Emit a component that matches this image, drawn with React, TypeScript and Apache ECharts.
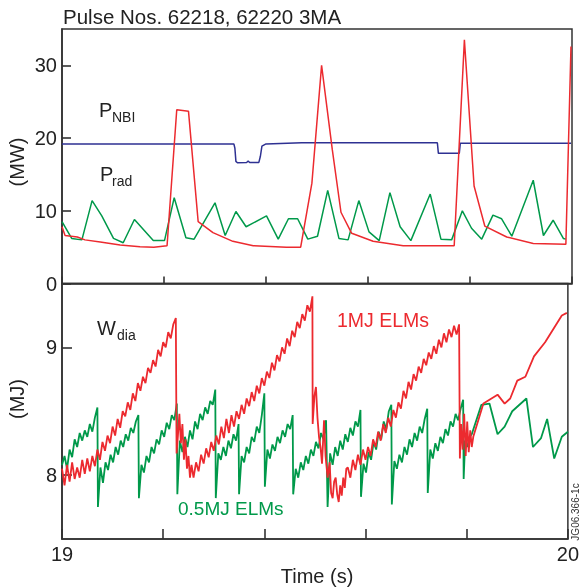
import React, { useEffect, useRef } from "react";
import * as echarts from "echarts";

const TITLE = "Pulse Nos. 62218, 62220 3MA";
const FONT = '"Liberation Sans", Arial, Helvetica, sans-serif';
const RED = "#ec2a2f";
const GREEN = "#00994a";
const BLUE = "#2e3192";

// ---- Top panel (MW) ----
const nbiPower: [number, number][] = [
  [19.0, 19.2], [19.337, 19.2], [19.339, 18.6], [19.341, 16.8], [19.344, 16.6],
  [19.362, 16.65], [19.365, 16.85], [19.368, 16.65], [19.386, 16.65], [19.389, 17.5],
  [19.392, 18.9], [19.4, 19.2], [19.47, 19.35], [19.736, 19.35], [19.738, 17.9],
  [19.779, 17.9], [19.781, 19.3], [19.998, 19.3],
];

const pRad1MJ: [number, number][] = [
  [19.0, 7.8], [19.006, 6.6], [19.03, 6.4], [19.045, 6.0], [19.075, 5.7], [19.114, 5.3],
  [19.153, 5.05], [19.18, 5.0], [19.206, 5.2], [19.225, 23.9], [19.248, 23.7], [19.267, 8.5],
  [19.296, 7.0], [19.335, 5.8], [19.375, 5.2], [19.44, 5.0], [19.468, 5.0], [19.49, 13.8],
  [19.509, 30.0], [19.53, 18.4], [19.547, 9.8], [19.568, 6.9], [19.61, 5.8], [19.669, 5.2],
  [19.769, 5.2], [19.789, 33.5], [19.808, 13.4], [19.829, 7.9], [19.872, 6.4], [19.924, 5.5],
  [19.988, 5.4], [19.998, 32.6],
];

const pRad05MJ: [number, number][] = [
  [19.0, 8.5], [19.019, 6.2], [19.039, 6.0], [19.059, 11.4], [19.078, 9.3], [19.101, 6.2],
  [19.12, 5.6], [19.142, 8.8], [19.179, 5.9], [19.201, 5.9], [19.22, 11.8], [19.243, 6.3],
  [19.259, 6.1], [19.3, 11.1], [19.32, 6.6], [19.341, 9.9], [19.361, 7.8], [19.401, 9.3],
  [19.424, 6.1], [19.444, 8.9], [19.462, 8.9], [19.482, 6.1], [19.501, 6.5], [19.521, 12.8],
  [19.543, 6.2], [19.561, 6.0], [19.582, 11.4], [19.602, 7.1], [19.622, 5.9], [19.643, 12.5],
  [19.663, 7.8], [19.684, 5.9], [19.722, 12.3], [19.743, 6.1], [19.764, 6.0], [19.785, 10.0],
  [19.803, 7.6], [19.823, 6.1], [19.845, 9.4], [19.862, 8.9], [19.882, 6.5], [19.924, 14.2],
  [19.944, 6.6], [19.963, 8.7], [19.983, 6.2], [19.988, 6.1],
];

// ---- Bottom panel (MJ) ----  sampled every 5 ms from the given start time
const STEP = 0.005;
const redRamp1 = [8.05, 7.92, 8.08, 7.95, 8.10, 7.97, 8.06, 7.98, 8.12, 8.01, 8.13, 8.03, 8.15, 8.07, 8.20, 8.12, 8.26, 8.19, 8.31, 8.25, 8.38, 8.31, 8.44, 8.37, 8.50, 8.46, 8.57, 8.51, 8.64, 8.58, 8.72, 8.66, 8.77, 8.72, 8.84, 8.80, 8.90, 8.85, 8.98, 8.93, 9.04, 9.00, 9.12, 9.07, 9.18, 9.23];
const redCrash1: [number, number][] = [[19.2265, 8.17], [19.229, 8.30], [19.232, 8.48], [19.235, 8.25], [19.238, 8.40], [19.241, 8.12], [19.244, 8.28], [19.247, 8.05], [19.25, 8.15], [19.253, 7.98], [19.256, 8.08]];
const redRamp2 = [7.98, 8.10, 8.03, 8.16, 8.09, 8.21, 8.14, 8.26, 8.19, 8.31, 8.24, 8.38, 8.29, 8.44, 8.33, 8.47, 8.38, 8.50, 8.44, 8.55, 8.48, 8.60, 8.54, 8.65, 8.58, 8.70, 8.64, 8.76, 8.70, 8.81, 8.76, 8.88, 8.82, 8.94, 8.89, 9.00, 8.95, 9.07, 9.01, 9.13, 9.08, 9.20, 9.15, 9.26, 9.21, 9.33, 9.28, 9.40];
const redCrash2: [number, number][] = [[19.4955, 8.40], [19.499, 8.62], [19.502, 8.69], [19.505, 8.45], [19.508, 8.30], [19.511, 8.22], [19.514, 8.09], [19.518, 8.43], [19.521, 8.15], [19.525, 7.98], [19.529, 8.10], [19.532, 7.86], [19.535, 7.82], [19.538, 7.95], [19.541, 7.98], [19.544, 7.85], [19.547, 7.79], [19.55, 7.92], [19.553, 7.84], [19.556, 7.98], [19.559, 7.90], [19.562, 8.05]];
const redRamp3 = [8.06, 7.98, 8.12, 8.04, 8.16, 8.08, 8.20, 8.12, 8.22, 8.15, 8.28, 8.22, 8.34, 8.27, 8.40, 8.33, 8.45, 8.38, 8.51, 8.45, 8.57, 8.52, 8.66, 8.60, 8.73, 8.67, 8.79, 8.74, 8.85, 8.80, 8.91, 8.86, 8.96, 8.91, 9.01, 8.95, 9.06, 9.00, 9.11, 9.04, 9.14, 9.08, 9.17, 9.10, 9.18];
const redTail: [number, number][] = [[19.7865, 8.13], [19.789, 8.40], [19.792, 8.20], [19.795, 8.48], [19.798, 8.15], [19.801, 8.42], [19.804, 8.18], [19.807, 8.35], [19.81, 8.22], [19.813, 8.30], [19.833, 8.56], [19.861, 8.63], [19.875, 8.56], [19.886, 8.60], [19.9, 8.74], [19.916, 8.77], [19.933, 8.93], [19.955, 9.04], [19.988, 9.25], [19.998, 9.27]];

const greenStarts = [19.0, 19.071, 19.152, 19.228, 19.304, 19.35, 19.401, 19.457, 19.525, 19.591, 19.652, 19.723];
const greenCycles: number[][] = [
  [8.08, 8.15, 8.05, 8.20, 8.14, 8.28, 8.22, 8.33, 8.27, 8.35, 8.30, 8.40, 8.34, 8.45, 8.53],
  [7.75, 8.06, 7.94, 8.10, 8.04, 8.16, 8.10, 8.22, 8.16, 8.27, 8.22, 8.32, 8.27, 8.37, 8.33, 8.42, 8.47],
  [7.82, 8.08, 8.02, 8.15, 8.10, 8.22, 8.17, 8.28, 8.24, 8.35, 8.30, 8.41, 8.36, 8.47, 8.43, 8.56],
  [7.85, 8.27, 8.18, 8.30, 8.22, 8.35, 8.28, 8.42, 8.36, 8.48, 8.43, 8.53, 8.48, 8.58, 8.55, 8.67],
  [7.82, 8.17, 8.12, 8.22, 8.15, 8.27, 8.21, 8.32, 8.27, 8.40],
  [7.85, 8.15, 8.10, 8.22, 8.17, 8.30, 8.26, 8.38, 8.33, 8.47, 8.64],
  [7.91, 8.20, 8.13, 8.24, 8.19, 8.30, 8.25, 8.35, 8.30, 8.40, 8.36, 8.47],
  [7.85, 8.05, 7.98, 8.10, 8.04, 8.15, 8.09, 8.20, 8.15, 8.26, 8.21, 8.33, 8.28, 8.43],
  [7.75, 8.17, 8.08, 8.22, 8.15, 8.27, 8.20, 8.32, 8.26, 8.37, 8.31, 8.42, 8.38, 8.51],
  [7.83, 8.09, 8.02, 8.18, 8.12, 8.26, 8.20, 8.34, 8.28, 8.42, 8.36, 8.50, 8.55],
  [7.77, 8.11, 8.05, 8.16, 8.10, 8.22, 8.16, 8.28, 8.22, 8.33, 8.27, 8.38, 8.33, 8.44, 8.52],
  [7.86, 8.20, 8.13, 8.25, 8.19, 8.30, 8.25, 8.36, 8.31, 8.42, 8.38, 8.48, 8.43, 8.52, 8.59],
];
const greenTail: [number, number][] = [[19.794, 7.97], [19.797, 8.27], [19.801, 8.22], [19.806, 8.30], [19.81, 8.32], [19.829, 8.55], [19.845, 8.56], [19.861, 8.32], [19.875, 8.38], [19.89, 8.50], [19.918, 8.60], [19.931, 8.22], [19.947, 8.29], [19.959, 8.44], [19.973, 8.13], [19.988, 8.30], [20.0, 8.34]];

const xTicks = [19, 19.2, 19.4, 19.6, 19.8, 20];
const xLabels = [19, 20];
const mwTicks = [0, 10, 20, 30];
const mjTicks = [8, 9];

const sampled = (t0: number, vals: number[]): [number, number][] =>
  vals.map((v, i) => [Math.round((t0 + i * STEP) * 10000) / 10000, v]);

const wdia1MJ: [number, number][] = [
  ...sampled(19.0, redRamp1), ...redCrash1,
  ...sampled(19.26, redRamp2), ...redCrash2,
  ...sampled(19.565, redRamp3), ...redTail,
];
const wdia05MJ: [number, number][] = [
  ...greenCycles.flatMap((c, k) => sampled(greenStarts[k], c)), ...greenTail,
];

export default function App() {
  const ref = useRef<HTMLDivElement>(null);
  useEffect(() => {
    if (!ref.current) return;
    const chart = echarts.init(ref.current, undefined, { renderer: "svg" });
    const axisLine = { show: true, lineStyle: { color: "#333", width: 1.6 } };
    const lbl = { fontSize: 20, color: "#222", fontFamily: FONT };
    const xAxisBase = (gi: number, showLabel: boolean, tickLen: number) => ({
      type: "value", gridIndex: gi, min: 19, max: 20,
      axisLine, splitLine: { show: false },
      axisTick: { show: true, inside: true, length: tickLen, customValues: xTicks, lineStyle: { color: "#333", width: 1.6 } },
      axisLabel: showLabel
        ? { ...lbl, show: true, margin: 5, customValues: xLabels, formatter: (v: number) => String(Math.round(v)) }
        : { show: false },
    });
    const text = (x: number, y: number, t: string, size: number, fill = "#222", extra: any = {}) => ({
      type: "text", x, y, ...extra,
      style: { text: t, fill, font: `${size}px ${FONT}`, align: extra.align || "left", verticalAlign: "middle" },
    });
    chart.setOption({
      animation: false,
      grid: [
        { left: 62, right: 10, top: 29, height: 254.5, show: true, borderColor: "#333", borderWidth: 1.5 },
        { left: 62, right: 10, top: 283.5, bottom: 48, show: true, borderColor: "#333", borderWidth: 1.5 },
      ],
      xAxis: [xAxisBase(0, false, 7), xAxisBase(1, true, 10)],
      yAxis: [
        {
          type: "value", gridIndex: 0, min: 0, max: 35, axisLine, splitLine: { show: false },
          axisTick: { show: true, inside: true, length: 9, customValues: mwTicks, lineStyle: { color: "#333", width: 1.6 } },
          axisLabel: { ...lbl, margin: 5, customValues: mwTicks },
        },
        {
          type: "value", gridIndex: 1, min: 7.5, max: 9.5, axisLine, splitLine: { show: false },
          axisTick: { show: true, inside: true, length: 10, customValues: mjTicks, lineStyle: { color: "#333", width: 1.6 } },
          axisLabel: { ...lbl, margin: 5, customValues: mjTicks },
        },
      ],
      series: [
        { type: "line", name: "P_NBI", xAxisIndex: 0, yAxisIndex: 0, data: nbiPower, showSymbol: false, lineStyle: { color: BLUE, width: 1.5 }, itemStyle: { color: BLUE } },
        { type: "line", name: "P_rad 0.5MJ", xAxisIndex: 0, yAxisIndex: 0, data: pRad05MJ, showSymbol: false, lineStyle: { color: GREEN, width: 1.5 }, itemStyle: { color: GREEN } },
        { type: "line", name: "P_rad 1MJ", xAxisIndex: 0, yAxisIndex: 0, data: pRad1MJ, showSymbol: false, lineStyle: { color: RED, width: 1.5 }, itemStyle: { color: RED } },
        { type: "line", name: "W_dia 0.5MJ", xAxisIndex: 1, yAxisIndex: 1, data: wdia05MJ, showSymbol: false, lineStyle: { color: GREEN, width: 1.8 }, itemStyle: { color: GREEN } },
        { type: "line", name: "W_dia 1MJ", xAxisIndex: 1, yAxisIndex: 1, data: wdia1MJ, showSymbol: false, lineStyle: { color: RED, width: 1.8 }, itemStyle: { color: RED } },
      ],
      graphic: [
        text(63, 16, TITLE, 20.5),
        text(17, 162, "(MW)", 20, "#222", { rotation: Math.PI / 2, align: "center" }),
        text(17, 399, "(MJ)", 20, "#222", { rotation: Math.PI / 2, align: "center" }),
        text(317, 576, "Time (s)", 20, "#222", { align: "center" }),
        text(99, 110, "P", 20),
        text(112, 117, "NBI", 14),
        text(100, 174, "P", 20),
        text(112, 181, "rad", 14),
        text(97, 328, "W", 20),
        text(117, 335, "dia", 14),
        text(337, 320, "1MJ ELMs", 19.5, RED),
        text(178, 508, "0.5MJ ELMs", 19, GREEN),
        text(575, 512, "JG06.366-1c", 10, "#333", { rotation: Math.PI / 2, align: "center" }),
      ],
    });
    return () => chart.dispose();
  }, []);
  return <div ref={ref} style={{ position: "fixed", left: 0, top: 0, width: 582, height: 587 }} />;
}
